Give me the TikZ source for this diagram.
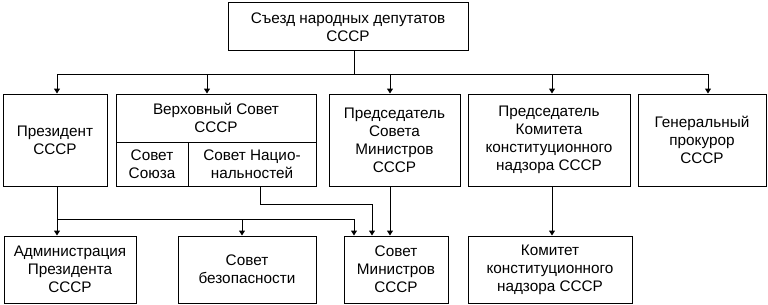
\documentclass[tikz,border=0pt]{standalone}
\usepackage{fontspec}
\setmainfont{Liberation Sans}
\usetikzlibrary{arrows.meta,positioning}

\begin{document}
\begin{tikzpicture}[x=1pt,y=-1pt,font=\fontsize{15.3}{18}\selectfont,
  b/.style={draw,line width=1pt,align=center,inner sep=0pt},
  l/.style={line width=1pt},
  a/.style={-{Triangle[length=5pt,width=6pt]},line width=1pt}]
\useasboundingbox (0,0) rectangle (768,305);
% top
\node[b,minimum width=240,minimum height=48] (sezd) at (348,27) {Съезд народных депутатов\\ СССР};
% second row
\node[b,minimum width=104,minimum height=92] (pres) at (55,140) {Президент\\ СССР};
\node[b,minimum width=200,minimum height=48] (vsT) at (216,118) {Верховный Совет\\ СССР};
\node[b,minimum width=72,minimum height=44] (ss) at (152,164) {Совет\\ Союза};
\node[b,minimum width=128,minimum height=44] (sn) at (252,164) {Совет Нацио-\\ нальностей};
\node[b,minimum width=131,minimum height=92] (psm) at (394.5,140) {Председатель\\ Совета\\ Министров\\ СССР};
\node[b,minimum width=162,minimum height=92] (pkk) at (549,140) {Председатель\\ Комитета\\ конституционного\\ надзора СССР};
\node[b,minimum width=128,minimum height=92] (gp) at (702,140) {Генеральный\\ прокурор\\ СССР};
% third row
\node[b,minimum width=132,minimum height=67] (adm) at (70,269.5) {Администрация\\ Президента\\ СССР};
\node[b,minimum width=138,minimum height=67] (sb) at (247,269.5) {Совет\\ безопасности};
\node[b,minimum width=104,minimum height=67] (sm) at (396,269.5) {Совет\\ Министров\\ СССР};
\node[b,minimum width=164,minimum height=67] (kk) at (550,269.5) {Комитет\\ конституционного\\ надзора СССР};
% connectors from the top
\coordinate (bus) at (354,74);
\draw[l] ([xshift=6pt]sezd.south) -- (bus);
\draw[l] (57,74) -- (708,74);
\foreach \x/\t in {57/pres,207/vsT,390/psm,552/pkk,708/gp}
  \draw[a] (\x,74) -- (\x,74 |- \t.north);
% connectors to the third row
\coordinate (j) at (57,219);
\draw[a] ([xshift=2pt]pres.south) -- ([xshift=2pt]pres.south |- adm.north);
\draw[a] (j) -| ([xshift=-5pt]sb.north);
\draw[a] (j) -| ([xshift=-42pt]sm.north);
\draw[a] ([xshift=8pt]sn.south) -- ++(0,18) -| ([xshift=-24pt]sm.north);
\draw[a] ([xshift=-4.5pt]psm.south) -- ([xshift=-4.5pt]psm.south |- sm.north);
\draw[a] ([xshift=3pt]pkk.south) -- ([xshift=3pt]pkk.south |- kk.north);
\end{tikzpicture}
\end{document}
